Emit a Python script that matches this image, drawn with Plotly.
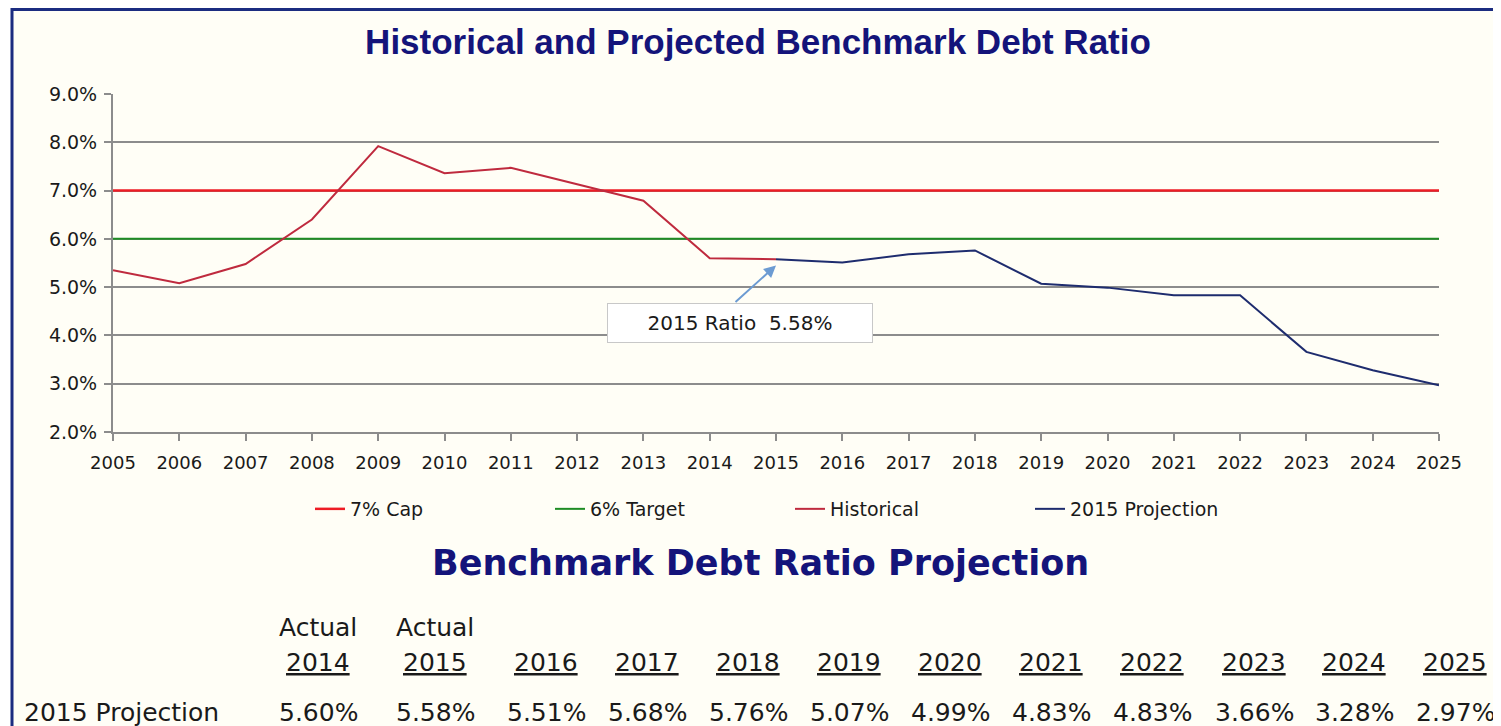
import plotly.graph_objects as go

# chart data
hist_years = [2005, 2006, 2007, 2008, 2009, 2010, 2011, 2012, 2013, 2014, 2015]
hist_ratio = [5.35, 5.08, 5.48, 6.40, 7.92, 7.36, 7.47, 7.13, 6.79, 5.60, 5.58]

proj_years = [2015, 2016, 2017, 2018, 2019, 2020, 2021, 2022, 2023, 2024, 2025]
proj_ratio = [5.58, 5.51, 5.68, 5.76, 5.07, 4.99, 4.83, 4.83, 3.66, 3.28, 2.97]

cap_years = [2005, 2025]
cap_value = [7.0, 7.0]
target_years = [2005, 2025]
target_value = [6.0, 6.0]

# table data
table_years = ["2014", "2015", "2016", "2017", "2018", "2019", "2020", "2021", "2022", "2023", "2024", "2025"]
table_heads = ["Actual", "Actual", "", "", "", "", "", "", "", "", "", ""]
table_values = [5.60, 5.58, 5.51, 5.68, 5.76, 5.07, 4.99, 4.83, 4.83, 3.66, 3.28, 2.97]
table_label = "2015 Projection"

# page puts the figure 8px in from the top-left corner
OFF = 8
W, H = 1501 - OFF, 726 - OFF
L, R, T, B = 113 - OFF, 1439 - OFF, 94 - OFF, 432 - OFF


def px(x):
    return (x - OFF - L) / (R - L)


def py(y):
    return (B - (y - OFF)) / (B - T)


NAVY = "#14147A"
FONT = "DejaVu Sans, Verdana, sans-serif"
TXT = "#1a1a1a"

fig = go.Figure()
fig.add_trace(go.Scatter(x=cap_years, y=cap_value, mode="lines", name="7% Cap",
                         line=dict(color="#EE1C25", width=2.5)))
fig.add_trace(go.Scatter(x=target_years, y=target_value, mode="lines", name="6% Target",
                         line=dict(color="#1E8C24", width=2)))
fig.add_trace(go.Scatter(x=hist_years, y=hist_ratio, mode="lines", name="Historical",
                         line=dict(color="#BF2A3E", width=2)))
fig.add_trace(go.Scatter(x=proj_years, y=proj_ratio, mode="lines", name="2015 Projection",
                         line=dict(color="#1E2C6E", width=2)))

# arrow + callout box
fig.add_annotation(x=2015, y=5.45, xref="x", yref="y", text="", showarrow=True,
                   ax=-42, ay=38, arrowhead=2, arrowsize=1.2, arrowwidth=2,
                   arrowcolor="#6C9BD2")
fig.add_annotation(x=px(740), y=py(323), xref="paper", yref="paper",
                   xanchor="center", yanchor="middle",
                   text="2015 Ratio  5.58%", showarrow=False,
                   font=dict(family=FONT, size=20, color=TXT),
                   bgcolor="white", bordercolor="#C8C8C8", borderwidth=1,
                   width=262, height=36)

# second title
fig.add_annotation(x=px(760), y=py(563), xref="paper", yref="paper",
                   xanchor="center", yanchor="middle",
                   text="<b>Benchmark Debt Ratio Projection</b>", showarrow=False,
                   font=dict(family=FONT, size=35, color=NAVY))

col_x = [318, 435, 546, 647, 748, 849, 950, 1051, 1152, 1254, 1354, 1455]
for cx, head, yr, val in zip(col_x, table_heads, table_years, table_values):
    if head:
        fig.add_annotation(x=px(cx), y=py(627), xref="paper", yref="paper",
                           xanchor="center", yanchor="middle",
                           text=head, showarrow=False,
                           font=dict(family=FONT, size=25, color=TXT))
    fig.add_annotation(x=px(cx), y=py(662), xref="paper", yref="paper",
                       xanchor="center", yanchor="middle",
                       text="<u>" + yr + "</u>", showarrow=False,
                       font=dict(family=FONT, size=25, color=TXT))
    fig.add_annotation(x=px(cx), y=py(712), xref="paper", yref="paper",
                       xanchor="center", yanchor="middle",
                       text=f"{val:.2f}%", showarrow=False,
                       font=dict(family=FONT, size=25, color=TXT))
fig.add_annotation(x=px(22), y=py(712), xref="paper", yref="paper",
                   xanchor="left", yanchor="middle",
                   text=table_label, showarrow=False,
                   font=dict(family=FONT, size=25, color=TXT))

# cream panel with navy frame (left and top edges visible)
fig.add_shape(type="rect", xref="paper", yref="paper", layer="below",
              x0=px(12), x1=px(1501 + 20), y0=py(726 + 20), y1=py(9.5),
              fillcolor="#FFFEF6", line=dict(color="#1B2C80", width=3))

fig.update_xaxes(range=[2005, 2025], tickmode="linear", dtick=1, showgrid=False,
                 showline=True, linecolor="#8C8C8C", linewidth=2,
                 ticks="outside", ticklen=7, tickcolor="#8C8C8C", tickwidth=2,
                 ticklabelstandoff=6,
                 tickfont=dict(family=FONT, size=18, color=TXT), zeroline=False)
fig.update_yaxes(range=[2, 9], tickmode="linear", dtick=1, tickformat=".1f", ticksuffix="%",
                 showgrid=True, gridcolor="#8C8C8C", gridwidth=2,
                 showline=True, linecolor="#8C8C8C", linewidth=2,
                 ticks="outside", ticklen=7, tickcolor="#8C8C8C", tickwidth=2,
                 ticklabelstandoff=3,
                 tickfont=dict(family=FONT, size=19, color=TXT), zeroline=False)

fig.update_layout(
    width=W, height=H,
    margin=dict(l=L, r=W - R, t=T, b=H - B),
    paper_bgcolor="white",
    plot_bgcolor="#D9D9D9",
    title=dict(text="<b>Historical and Projected Benchmark Debt Ratio</b>",
               x=(758 - OFF) / W, xanchor="center", y=1 - (42 - OFF) / H, yanchor="middle",
               font=dict(family="Liberation Sans, Arial, sans-serif", size=35, color=NAVY)),
    legend=dict(orientation="h", x=px(310), y=py(509), xanchor="left", yanchor="middle",
                entrywidth=195, bgcolor="rgba(0,0,0,0)",
                font=dict(family=FONT, size=19, color=TXT)),
    showlegend=True,
)

fig.write_html("out.html")
